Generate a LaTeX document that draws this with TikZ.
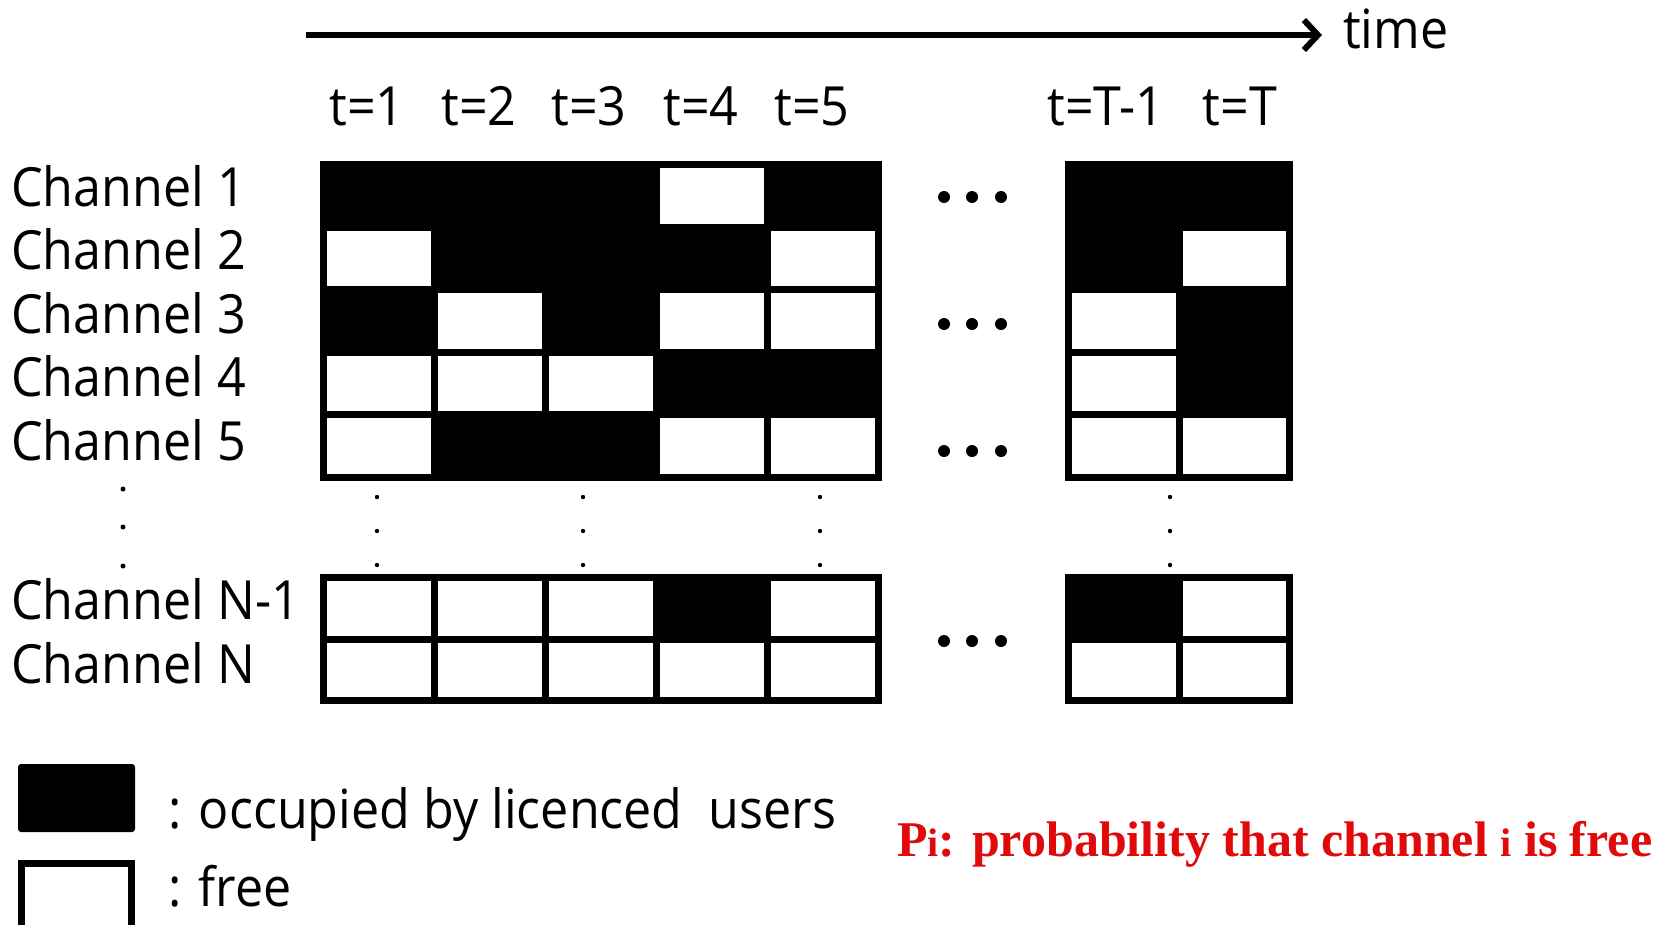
\documentclass[tikz,border=0pt]{standalone}
\usepackage{fontspec}
\setmainfont{Open Sans}[FakeStretch=0.93]
\newfontfamily\redserif{Liberation Serif}
\usetikzlibrary{arrows.meta}
\definecolor{redtxt}{RGB}{225,10,10}
\begin{document}
\begin{tikzpicture}[x=1pt,y=-1pt,
  lbl/.style={anchor=base west, inner sep=0pt, font=\fontsize{54}{60}\selectfont},
  tlbl/.style={anchor=base, inner sep=0pt, font=\fontsize{54}{60}\selectfont},
  st1/.style={fill=black, draw=black, line width=7pt},
  st0/.style={fill=white, draw=black, line width=7pt},
  bigdot/.style={fill=black},
]
\clip (0,0) rectangle (1668,924);
\fill[white] (0,0) rectangle (1668,924);

% time arrow
\coordinate (arrS) at (306,35);
\coordinate (arrE) at (1322,35);
\draw[line width=6.5pt, -{Straight Barb[length=14pt,width=30pt,line width=6pt]}] (arrS) -- (arrE);
\node[lbl] (time) at (1343,48) {time};

% t labels
\node[tlbl] (t1) at (367,125.5) {t=1};
\node[tlbl] (t2) at (479,125.5) {t=2};
\node[tlbl] (t3) at (589,125.5) {t=3};
\node[tlbl] (t4) at (701,125.5) {t=4};
\node[tlbl] (t5) at (812,125.5) {t=5};
\node[tlbl] (tT1) at (1106,125.5) {t=T-1};
\node[tlbl] (tT) at (1240,125.5) {t=T};

% channel labels
\node[lbl] (c1) at (11,206) {Channel 1};
\node[lbl] (c2) at (11,269.5) {Channel 2};
\node[lbl] (c3) at (11,333) {Channel 3};
\node[lbl] (c4) at (11,396.5) {Channel 4};
\node[lbl] (c5) at (11,460) {Channel 5};
\node[lbl] (cN1) at (11,619) {Channel N-1};
\node[lbl] (cN) at (11,683) {Channel N};

% main upper block
\foreach \r/\pat in {0/{1,1,1,0,1},1/{0,1,1,1,0},2/{1,0,1,0,0},3/{0,0,0,1,1},4/{0,1,1,0,0}}{
  \foreach \v [count=\c from 0] in \pat {
    \draw[st\v] ({323.5+111*\c},{164.5+62.6*\r}) rectangle ++(111,62.6);
  }
}
% right upper block
\foreach \r/\pat in {0/{1,1},1/{1,0},2/{0,1},3/{0,1},4/{0,0}}{
  \foreach \v [count=\c from 0] in \pat {
    \draw[st\v] ({1068.5+110.5*\c},{164.5+62.6*\r}) rectangle ++(110.5,62.6);
  }
}
% lower blocks
\foreach \r/\pat in {0/{0,0,0,1,0},1/{0,0,0,0,0}}{
  \foreach \v [count=\c from 0] in \pat {
    \draw[st\v] ({323.5+111*\c},{577.5+61.5*\r}) rectangle ++(111,61.5);
  }
}
\foreach \r/\pat in {0/{1,0},1/{0,0}}{
  \foreach \v [count=\c from 0] in \pat {
    \draw[st\v] ({1068.5+110.5*\c},{577.5+61.5*\r}) rectangle ++(110.5,61.5);
  }
}

% horizontal ellipsis dots
\foreach \yy in {197,324,451,641}{
  \foreach \xx in {944,972,1001}{
    \fill[bigdot] (\xx,\yy) circle[radius=6pt];
  }
}
% vertical dots
\foreach \xx in {377,583,820,1170}{
  \foreach \yy in {497,531,565}{
    \fill (\xx,\yy) circle[radius=2.2pt];
  }
}
\foreach \yy in {489,527,566}{
  \fill (123,\yy) circle[radius=2.5pt];
}

% legend
\fill[rounded corners=3pt] (18,764) rectangle (135,832);
\draw[line width=7pt, fill=white] (21.5,863.5) rectangle (131.5,940);
\node[lbl] (occ) at (168,828) {: occupied by licenced\ \ users};
\node[lbl] (free) at (168,906) {: free};

% red note
\node[anchor=base west, inner sep=0pt, text=redtxt, font=\redserif\bfseries\fontsize{50}{56}\selectfont] (note) at (897,856)
  {P{\fontsize{40}{44}\selectfont i}: probability that channel {\fontsize{40}{44}\selectfont i} is free};
\end{tikzpicture}
\end{document}
